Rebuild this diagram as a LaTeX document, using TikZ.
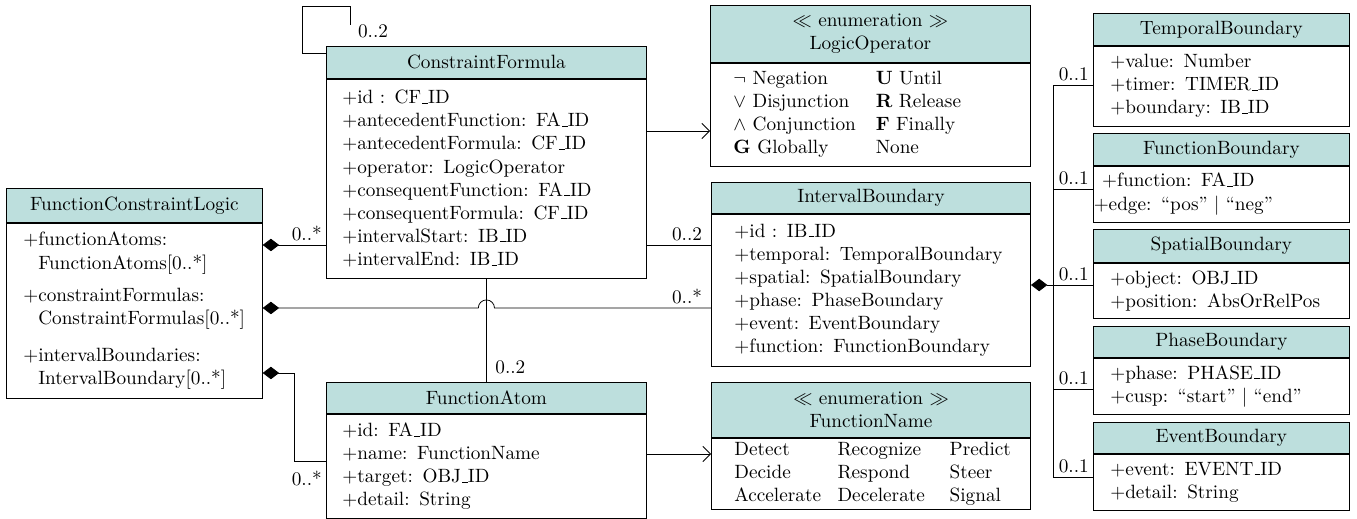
\documentclass[tikz,border=0pt]{standalone}
\usepackage{amsmath}
\usepackage{amssymb}
\usetikzlibrary{arrows.meta}
\definecolor{headfill}{RGB}{189,223,221}
\newcommand{\usc}{\leavevmode\kern.06em\vbox{\hrule width.3em}}

\begin{document}
\begin{tikzpicture}[
  x=0.52pt, y=-0.52pt,
  head/.style={draw, fill=headfill, anchor=north west, align=center, inner sep=0pt, minimum height=16.6pt},
  body/.style={draw, anchor=north west, align=left, inner ysep=0pt, inner xsep=8.8pt},
  mult/.style={inner sep=2pt},
  comp/.style={{Diamond[length=8.5pt,width=6.5pt]}-},
  assoc/.style={-{Straight Barb[length=4pt,width=8pt]}}
]
\useasboundingbox (0,0) rectangle (1357,519);

% main class
\node[head, minimum width=133.1pt, minimum height=17.7pt] (fclh) at (6,188) {FunctionConstraintLogic};
\node[body, text width=115.5pt, minimum height=91pt] (fcl) at (fclh.south west)
  {+functionAtoms:\\
   \hphantom{+}FunctionAtoms[0..*]\\[5pt]
   +constraintFormulas:\\
   \hphantom{+}ConstraintFormulas[0..*]\\[7pt]
   +intervalBoundaries:\\
   \hphantom{+}IntervalBoundary[0..*]};

% formulas and atoms
\node[head, minimum width=166.4pt] (cfh) at (326,46) {ConstraintFormula};
\node[body, inner xsep=8.3pt, text width=149.8pt, minimum height=103.5pt] (cf) at (cfh.south west)
  {+id : CF\usc ID\\
   +antecedentFunction: FA\usc ID\\
   +antecedentFormula: CF\usc ID\\
   +operator: LogicOperator\\
   +consequentFunction: FA\usc ID\\
   +consequentFormula: CF\usc ID\\
   +intervalStart: IB\usc ID\\
   +intervalEnd: IB\usc ID};

\node[head, minimum width=166.4pt, minimum height=16.1pt] (fah) at (326,382) {FunctionAtom};
\node[body, inner xsep=8.3pt, text width=149.8pt, minimum height=54.1pt] (fa) at (fah.south west)
  {+id: FA\usc ID\\
   +name: FunctionName\\
   +target: OBJ\usc ID\\
   +detail: String};

% enumerations and interval boundary
\node[head, minimum width=166.4pt, minimum height=29.6pt] (loh) at (710,5)
  {$\ll$ enumeration $\gg$\\LogicOperator};
\node[body, inner xsep=12pt, text width=142.4pt, minimum height=53.6pt] (lo) at (loh.south west)
  {\begin{tabular}{@{}p{74pt}@{}l@{}}
   $\neg$ Negation & \textbf{U} Until\\
   $\vee$ Disjunction & \textbf{R} Release\\
   $\wedge$ Conjunction & \textbf{F} Finally\\
   \textbf{G} Globally & None
   \end{tabular}};

\node[head, minimum width=166pt, minimum height=16.1pt] (ibh) at (711,182) {IntervalBoundary};
\node[body, inner xsep=12pt, text width=142pt, minimum height=79pt] (ib) at (ibh.south west)
  {+id : IB\usc ID\\
   +temporal: TemporalBoundary\\
   +spatial: SpatialBoundary\\
   +phase: PhaseBoundary\\
   +event: EventBoundary\\
   +function: FunctionBoundary};

\node[head, minimum width=166pt, minimum height=28.6pt] (fnh) at (711,382)
  {$\ll$ enumeration $\gg$\\FunctionName};
\node[body, inner xsep=12pt, text width=142pt, minimum height=36.9pt] (fn) at (fnh.south west)
  {\begin{tabular}{@{}p{53.6pt}@{}p{58.3pt}@{}l@{}}
   Detect & Recognize & Predict\\
   Decide & Respond & Steer\\
   Accelerate & Decelerate & Signal
   \end{tabular}};

% boundary kinds
\node[head, minimum width=133.1pt] (tbh) at (1093,13) {TemporalBoundary};
\node[body, text width=115.5pt, minimum height=41.6pt] (tb) at (tbh.south west)
  {+value: Number\\
   +timer: TIMER\usc ID\\
   +boundary: IB\usc ID};

\node[head, minimum width=133.1pt] (fbh) at (1093,133) {FunctionBoundary};
\node[body, inner xsep=4.6pt, text width=123.9pt, minimum height=29.1pt] (fb) at (fbh.south west)
  {+function: FA\usc ID\\
   \hspace*{-4.4pt}+edge: “pos” $|$ “neg”};

\node[head, minimum width=133.1pt, minimum height=17.2pt] (sbh) at (1093,229) {SpatialBoundary};
\node[body, text width=115.5pt, minimum height=28.6pt] (sb) at (sbh.south west)
  {+object: OBJ\usc ID\\
   +position: AbsOrRelPos};

\node[head, minimum width=133.1pt, minimum height=16.1pt] (pbh) at (1093,326) {PhaseBoundary};
\node[body, text width=115.5pt, minimum height=29.1pt] (pb) at (pbh.south west)
  {+phase: PHASE\usc ID\\
   +cusp: “start” $|$ “end”};

\node[head, minimum width=133.1pt, minimum height=16.1pt] (ebh) at (1093,422) {EventBoundary};
\node[body, text width=115.5pt, minimum height=29.1pt] (eb) at (ebh.south west)
  {+event: EVENT\usc ID\\
   +detail: String};

% connectors
\draw ([yshift=-3.6pt]cfh.north west) -- ++(-24,0) -- ++(0,-47) -- ++(48,0) -- ++(0,19) coordinate (loopend);
\node[mult, anchor=west] (cfself) at ([xshift=2pt,yshift=-3.5pt]loopend) {0..2};

\draw[comp] (fcl.east |- 0,245) -- (cf.west |- 0,245)
  node[mult, pos=1, anchor=south east] (cfm) {0..*};
\draw[assoc] (cf.east |- 0,131) -- (lo.west |- 0,131);
\draw (cf.east |- 0,245) -- (ib.west |- 0,245)
  node[mult, pos=1, anchor=south east, xshift=-2.5pt] (cfib) {0..2};

\coordinate (jump) at (cf.south |- 0,308);
\draw[comp] (fcl.east |- 0,308) -- ([xshift=-4.2pt]jump)
  arc[start angle=180, end angle=0, radius=4.2pt] -- (ib.west |- 0,308)
  node[mult, pos=1, anchor=south east, xshift=-2.5pt] (ibm) {0..*};
\draw (cf.south) -- (fah.north)
  node[mult, pos=1, anchor=south west, xshift=2.5pt, yshift=2pt] (cffa) {0..2};

\coordinate (bend) at (294,373);
\draw[comp] (fcl.east |- 0,373) -- (bend) |- (fa.west |- 0,461);
\node[mult, anchor=north east, yshift=-3pt] (fam) at (fa.west |- 0,461) {0..*};
\draw[assoc] (fa.east |- 0,454) -- (fn.west |- 0,454);

\coordinate (bus) at (1053,285);
\draw[comp] (ib.east |- 0,285) -- (sb.west |- 0,285);
\draw (tb.west |- 0,85) -| (bus) |- (eb.west |- 0,477);
\draw (fb.west |- 0,189) -| (bus);
\draw (pb.west |- 0,389) -| (bus);
\node[mult, anchor=south east] (tbm) at (tb.west |- 0,85) {0..1};
\node[mult, anchor=south east] (fbm) at (fb.west |- 0,189) {0..1};
\node[mult, anchor=south east] (sbm) at (sb.west |- 0,285) {0..1};
\node[mult, anchor=south east] (pbm) at (pb.west |- 0,389) {0..1};
\node[mult, anchor=south east] (ebm) at (eb.west |- 0,477) {0..1};
\end{tikzpicture}
\end{document}
